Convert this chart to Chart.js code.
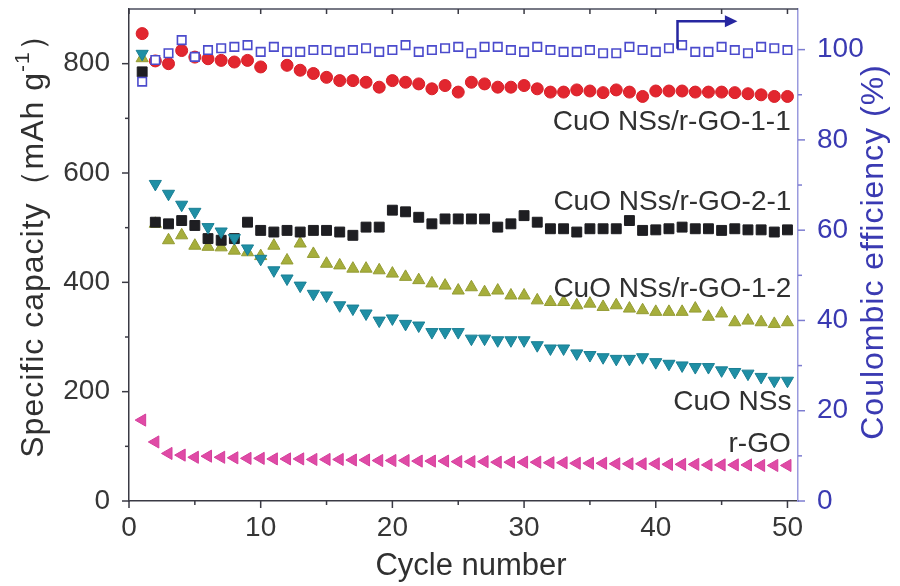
<!DOCTYPE html>
<html>
<head>
<meta charset="utf-8">
<title>Cycling performance</title>
<script src="https://cdn.jsdelivr.net/npm/chart.js@4.4.1/dist/chart.umd.min.js"></script>
<style>
  html, body { margin: 0; padding: 0; background: #fff; }
  #wrap { width: 900px; height: 586px; }
  #cycleChart { filter: blur(0.5px); }
</style>
</head>
<body>
<div id="wrap"><canvas id="cycleChart" width="900" height="586"></canvas></div>
<script>
// cycle number on x, specific capacity (mAh/g) on the left axis, coulombic efficiency (%) on the right
const cycles = [1, 2, 3, 4, 5, 6, 7, 8, 9, 10, 11, 12, 13, 14, 15, 16, 17, 18, 19, 20, 21, 22, 23, 24, 25,
  26, 27, 28, 29, 30, 31, 32, 33, 34, 35, 36, 37, 38, 39, 40, 41, 42, 43, 44, 45, 46, 47, 48, 49, 50];

const capGO11 = [855, 805, 800, 824, 812, 809, 806, 803, 806, 794, null, 797, 788, 782, 775, 769, 769, 766, 757, 769,
  766, 763, 754, 760, 748, 766, 763, 757, 757, 760, 754, 748, 748, 752, 750, 747, 752, 748, 740, 750,
  750, 750, 748, 748, 748, 747, 745, 743, 740, 740];
const capGO21 = [785, 510, 507, 513, 504, 480, 477, 480, 510, 495, 492, 495, 492, 495, 495, 492, 486, 501, 501, 532,
  529, 519, 507, 516, 516, 516, 516, 501, 507, 522, 510, 498, 498, 492, 498, 498, 498, 513, 495, 496,
  498, 501, 498, 498, 495, 498, 496, 496, 492, 496];
const capGO12 = [810, 507, 477, 486, 467, 465, 464, 458, 455, 448, 467, 440, 471, 452, 434, 431, 425, 425, 422, 416,
  410, 404, 398, 394, 385, 391, 382, 385, 376, 376, 367, 364, 364, 358, 361, 355, 358, 352, 349, 346,
  346, 346, 352, 337, 343, 327, 330, 327, 324, 327];
const capCuO = [818, 580, 562, 542, 529, 501, 493, 481, 462, 443, 422, 407, 394, 379, 376, 358, 352, 343, 330, 334,
  324, 321, 309, 309, 309, 297, 297, 294, 294, 294, 285, 279, 279, 270, 267, 263, 260, 260, 263, 254,
  251, 248, 245, 245, 239, 236, 233, 227, 220, 220];
const capRGO = [148, 108, 87, 84, 80, 82, 80, 79, 78, 78, 77, 77, 77, 76, 76, 76, 75, 75, 74, 74,
  74, 73, 73, 73, 72, 72, 72, 71, 71, 71, 71, 70, 70, 69, 69, 69, 68, 68, 68, 68,
  67, 67, 67, 66, 66, 66, 66, 65, 65, 65];
const coulombic = [92.9, 97.7, 99.2, 102.1, 98.4, 99.9, 100.3, 100.6, 101.0, 99.5, 100.6, 99.5, 99.5, 99.9, 99.9, 99.5,
  99.9, 100.3, 99.5, 99.9, 101.0, 99.5, 99.9, 100.3, 100.6, 99.2, 100.6, 100.6, 99.9, 99.5, 100.6, 99.9, 99.5,
  99.5, 99.9, 99.2, 99.2, 100.6, 99.9, 99.5, 100.3, 101.0, 99.5, 99.5, 100.6, 99.9, 99.2, 100.6, 100.3, 99.9];

const capacityTicks = [0, 200, 400, 600, 800];
const efficiencyTicks = [0, 20, 40, 60, 80, 100];
const cycleTicks = [0, 10, 20, 30, 40, 50];

const seriesNames = ['CuO NSs/r-GO-1-1', 'CuO NSs/r-GO-2-1', 'CuO NSs/r-GO-1-2', 'CuO NSs', 'r-GO'];

const FONT = "'Liberation Sans', Arial, Helvetica, sans-serif";
const TEXT = '#363636';
const BLUE = '#3a3ab2';

function points(values) {
  return cycles.map((c, i) => ({ x: c, y: values[i] }));
}

// text labels next to each curve, in data units (x cycle, y capacity)
const labelSpots = [
  { x: 50.25, y: 692 },
  { x: 50.3, y: 546 },
  { x: 50.3, y: 387 },
  { x: 50.3, y: 180 },
  { x: 50.25, y: 104 }
];

// drop the label overhang padding so the plot box sits where the figure has it
function fixBox(size, key) {
  return (s) => {
    s[key] = size;
    s.paddingTop = 0;
    s.paddingBottom = 0;
    s.paddingLeft = 0;
    s.paddingRight = 0;
  };
}

const decorPlugin = {
  id: 'decor',
  afterDraw(chart) {
    const { ctx, chartArea: a, scales } = chart;
    const sx = scales.x;
    const sy = scales.y;
    const sy2 = scales.y2;
    ctx.save();

    // top frame
    ctx.strokeStyle = '#4a4c5c';
    ctx.lineWidth = 1.5;
    ctx.beginPath();
    ctx.moveTo(a.left, a.top);
    ctx.lineTo(a.right, a.top);
    ctx.stroke();

    // x tick marks, bottom (outward) and top (inward)
    ctx.strokeStyle = '#3a3a44';
    ctx.lineWidth = 1.5;
    for (let v = 0; v <= 50; v += 5) {
      const px = sx.getPixelForValue(v);
      const len = v % 10 === 0 ? 7 : 4;
      ctx.beginPath();
      ctx.moveTo(px, a.bottom);
      ctx.lineTo(px, a.bottom + len);
      ctx.moveTo(px, a.top);
      ctx.lineTo(px, a.top + 5);
      ctx.stroke();
    }

    // left ticks
    for (let v = 0; v < 900; v += 100) {
      const py = sy.getPixelForValue(v);
      const len = v % 200 === 0 ? 7 : 4;
      ctx.beginPath();
      ctx.moveTo(a.left, py);
      ctx.lineTo(a.left - len, py);
      ctx.stroke();
    }

    // right ticks
    ctx.strokeStyle = '#7c7cd0';
    for (let v = 0; v <= 100; v += 10) {
      const py = sy2.getPixelForValue(v);
      const len = v % 20 === 0 ? 7 : 4;
      ctx.beginPath();
      ctx.moveTo(a.right, py);
      ctx.lineTo(a.right + len, py);
      ctx.stroke();
    }

    // arrow pointing to the right axis
    const ax = sx.getPixelForValue(41.65);
    const ay0 = sy2.getPixelForValue(100.2);
    const ay1 = sy2.getPixelForValue(106.3);
    const ax1 = sx.getPixelForValue(45.4);
    const tip = sx.getPixelForValue(46.2);
    ctx.strokeStyle = '#2626a0';
    ctx.fillStyle = '#2626a0';
    ctx.lineWidth = 2.5;
    ctx.beginPath();
    ctx.moveTo(ax, ay0);
    ctx.lineTo(ax, ay1);
    ctx.lineTo(ax1, ay1);
    ctx.stroke();
    ctx.beginPath();
    ctx.moveTo(tip, ay1);
    ctx.lineTo(ax1 - 2, ay1 - 6);
    ctx.lineTo(ax1 - 2, ay1 + 6);
    ctx.closePath();
    ctx.fill();

    // curve labels
    ctx.fillStyle = '#303030';
    ctx.font = '28px ' + FONT;
    ctx.textAlign = 'right';
    ctx.textBaseline = 'middle';
    seriesNames.forEach((name, i) => {
      const spot = labelSpots[i];
      ctx.fillText(name, sx.getPixelForValue(spot.x), sy.getPixelForValue(spot.y));
    });

    // x title
    ctx.textAlign = 'center';
    ctx.font = '31px ' + FONT;
    ctx.fillText('Cycle number', 471, 566);

    // left title, rotated, with superscript
    ctx.save();
    ctx.translate(34, 238);
    ctx.rotate(-Math.PI / 2);
    ctx.letterSpacing = '1px';
    const big = '32px ' + FONT;
    const small = '21px ' + FONT;
    const partA = 'Specific capacity\uFF08mAh g';
    const partB = '-1';
    const partC = '\uFF09';
    ctx.font = big;
    const wA = ctx.measureText(partA).width;
    const wC = ctx.measureText(partC).width;
    ctx.font = small;
    const wB = ctx.measureText(partB).width;
    let cx = -(wA + wB + wC) / 2;
    ctx.textAlign = 'left';
    ctx.font = big;
    ctx.fillText(partA, cx, 0);
    cx += wA;
    ctx.font = small;
    ctx.fillText(partB, cx, -11);
    cx += wB;
    ctx.font = big;
    ctx.fillText(partC, cx, 0);
    ctx.restore();

    // right title
    ctx.save();
    ctx.translate(874, 252);
    ctx.rotate(-Math.PI / 2);
    ctx.letterSpacing = '1px';
    ctx.fillStyle = BLUE;
    ctx.font = '32px ' + FONT;
    ctx.textAlign = 'center';
    ctx.textBaseline = 'middle';
    ctx.fillText('Coulombic efficiency (%)', 0, 0);
    ctx.restore();

    ctx.restore();
  }
};

new Chart(document.getElementById('cycleChart'), {
  type: 'scatter',
  data: {
    datasets: [
      {
        label: 'Coulombic efficiency',
        data: points(coulombic),
        yAxisID: 'y2',
        pointStyle: 'rect',
        pointRadius: 6,
        backgroundColor: '#ffffff',
        borderColor: '#4b4bcc',
        borderWidth: 1.6
      },
      {
        label: seriesNames[0],
        data: points(capGO11),
        yAxisID: 'y',
        pointStyle: 'circle',
        pointRadius: 6,
        backgroundColor: '#e2262f',
        borderColor: '#d81f28',
        borderWidth: 1
      },
      {
        label: seriesNames[3],
        data: points(capCuO),
        yAxisID: 'y',
        pointStyle: 'triangle',
        rotation: 180,
        pointRadius: 7,
        backgroundColor: '#1f8fa5',
        borderColor: '#1a7f94',
        borderWidth: 1
      },
      {
        label: seriesNames[1],
        data: points(capGO21),
        yAxisID: 'y',
        pointStyle: 'rect',
        pointRadius: 7,
        backgroundColor: '#1e1e22',
        borderColor: '#1e1e22',
        borderWidth: 1
      },
      {
        label: seriesNames[2],
        data: points(capGO12),
        yAxisID: 'y',
        pointStyle: 'triangle',
        pointRadius: 7,
        backgroundColor: '#a6ae3c',
        borderColor: '#949c34',
        borderWidth: 1
      },
      {
        label: seriesNames[4],
        data: points(capRGO),
        yAxisID: 'y',
        pointStyle: 'triangle',
        rotation: -90,
        pointRadius: 7,
        backgroundColor: '#e04aa6',
        borderColor: '#d43f9b',
        borderWidth: 1
      }
    ]
  },
  options: {
    responsive: false,
    animation: false,
    devicePixelRatio: 1,
    layout: { padding: { top: 9, left: 0, right: 0, bottom: 0 } },
    plugins: {
      legend: { display: false },
      tooltip: { enabled: false }
    },
    scales: {
      x: {
        type: 'linear',
        position: 'bottom',
        min: 0,
        max: 50.8,
        afterBuildTicks: (s) => { s.ticks = cycleTicks.map((v) => ({ value: v })); },
        ticks: { font: { family: FONT, size: 28 }, color: TEXT, padding: 10, maxRotation: 0 },
        grid: { display: false, drawTicks: false },
        border: { display: true, color: '#3a3a44', width: 1.5 },
        afterFit: fixBox(85, 'height')
      },
      y: {
        position: 'left',
        min: 0,
        max: 900,
        afterBuildTicks: (s) => { s.ticks = capacityTicks.map((v) => ({ value: v })); },
        ticks: { font: { family: FONT, size: 28 }, color: TEXT, padding: 19 },
        grid: { display: false, drawTicks: false },
        border: { display: true, color: '#3a3a44', width: 1.5 },
        afterFit: fixBox(129, 'width')
      },
      y2: {
        position: 'right',
        min: 0,
        max: 109,
        afterBuildTicks: (s) => { s.ticks = efficiencyTicks.map((v) => ({ value: v })); },
        ticks: { font: { family: FONT, size: 28 }, color: BLUE, padding: 19 },
        grid: { display: false, drawTicks: false },
        border: { display: true, color: '#9a9ade', width: 1.5 },
        afterFit: fixBox(102, 'width')
      }
    }
  },
  plugins: [decorPlugin]
});
</script>
</body>
</html>
